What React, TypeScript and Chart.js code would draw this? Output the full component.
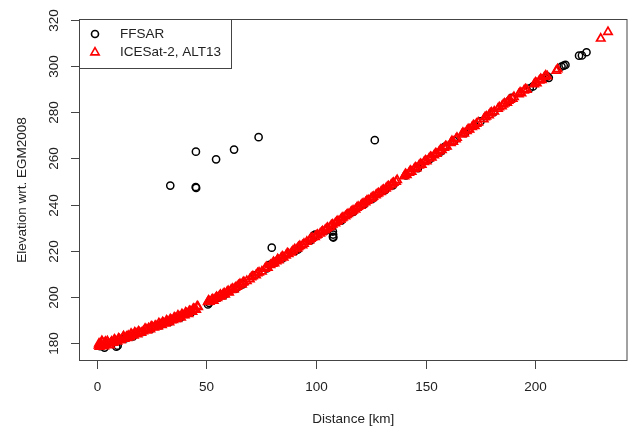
import React, { useEffect, useRef } from 'react';
import { Chart, registerables } from 'chart.js';
Chart.register(...registerables);

const seriesNames = ['FFSAR', 'ICESat-2, ALT13'];
const xTitle = 'Distance [km]';
const yTitle = 'Elevation wrt. EGM2008';
const xTicks = [0, 50, 100, 150, 200];
const yTicks = [180, 200, 220, 240, 260, 280, 300, 320];

const ffsarX = [
  1.5, 3.5, 8.9, 9.5, 13.0, 16.5, 21.0, 24.8, 29.0, 33.5, 38.0, 43.0, 50.7, 51.2, 55.5, 58.0,
  63.5, 66.5, 72.0, 77.5, 78.8, 84.5, 90.5, 91.8, 97.5, 98.9, 99.6, 104.5, 111.5, 117.0, 122.0,
  126.0, 131.5, 135.0, 141.0, 146.5, 152.0, 157.0, 158.7, 163.0, 168.0, 175.0, 181.0, 188.0,
  189.2, 197.5, 199.0, 204.5, 205.5, 206.2, 212.0, 213.0, 213.8, 220.0, 221.3, 223.4,
  33.5, 45.2, 45.1, 45.3, 54.4, 62.6, 73.8, 54.4, 79.8, 126.8, 107.7, 107.8, 107.7, 107.9,
];
const ffsarY = [
  178.6, 178.0, 178.4, 178.8, 182.0, 182.9, 184.8, 186.2, 187.7, 189.3, 190.9, 193.3, 196.7, 197.4, 199.6, 200.7,
  203.6, 205.4, 209.3, 212.3, 213.9, 216.5, 219.9, 220.5, 224.4, 226.5, 227.0, 228.8, 233.0, 236.8, 240.2,
  242.6, 246.2, 248.3, 252.6, 255.8, 259.8, 263.0, 265.0, 267.6, 271.0, 276.0, 280.0, 284.8,
  286.2, 290.4, 291.2, 295.0, 295.6, 294.9, 299.8, 300.2, 300.5, 304.5, 304.6, 306.0,
  248.2, 262.9, 247.6, 247.2, 259.6, 263.8, 269.2, 301.8, 221.3, 267.9, 228.3, 227.0, 226.0, 225.7,
];

const iceX = [
  0.8, 1.2, 1.7, 2.1, 2.6, 3.0, 3.4, 3.9, 4.5, 5.2, 5.9, 6.8, 7.6, 8.5, 9.4, 10.3, 11.0, 11.8, 12.6, 13.5,
  14.3, 15.2, 16.0, 16.9, 17.8, 18.6, 19.5, 21.2, 22.5, 23.6, 24.4, 25.3, 26.2, 27.0, 27.9, 28.8, 29.7,
  30.5, 31.4, 32.3, 33.1, 34.0, 34.9, 35.8, 36.6, 37.5, 38.4, 39.2, 40.1, 41.0, 41.8, 42.7, 43.6, 44.5,
  45.3, 46.2,
  1.0, 2.3, 3.7, 4.8, 6.3, 8.0, 9.9, 12.2, 13.9, 15.6, 17.3, 19.0, 20.3, 22.0, 23.0, 24.8, 26.6, 28.3,
  30.0, 31.8, 33.5, 35.3, 37.0, 38.8, 40.5, 42.2, 44.0, 45.8,
  50.6, 51.5, 52.4, 53.3, 54.1, 55.0, 55.9, 56.8, 57.6, 58.5, 59.4, 60.3, 61.2, 62.5, 64.0, 65.3, 66.2,
  67.1, 68.4, 69.8, 71.2, 72.6, 74.0, 75.3, 76.7, 78.0, 79.2, 80.1, 81.0, 82.0, 83.0, 84.0, 85.2, 86.3,
  87.5, 88.8, 90.3, 91.5, 92.6, 93.8, 95.8, 97.0, 98.2, 99.5, 100.7, 101.9, 103.0, 104.1, 105.3, 106.5,
  107.6, 108.8, 110.0, 111.2, 112.3, 113.4, 114.6, 115.8, 116.9, 118.0, 119.2, 120.4, 121.5, 122.6,
  123.8, 125.0, 126.1, 127.3, 128.5, 129.6, 130.8, 131.9, 133.0, 134.2, 135.4, 136.5,
  51.0, 52.9, 54.6, 56.4, 58.1, 59.9, 61.8, 63.2, 64.6, 66.7, 70.5, 73.3, 77.3, 80.6, 82.5, 84.6, 86.9,
  89.5, 92.0, 94.5, 97.6, 100.1, 102.5, 104.7, 107.0, 109.4, 111.8, 114.0, 116.3, 118.6, 121.0, 123.2,
  125.6, 127.9, 130.2, 132.5, 134.8, 137.0,
  140.3, 141.4, 142.5, 143.6, 144.8, 145.9, 147.0, 148.2, 149.3, 150.5, 151.6, 152.8, 153.9, 155.1,
  156.2, 157.4, 158.5, 159.7, 161.5, 162.6, 163.8, 166.5, 167.6, 168.8, 170.0, 171.2, 172.4, 174.0,
  176.5, 177.7, 178.9, 180.1, 181.3, 183.6, 184.8, 186.0, 187.2, 188.5, 189.7, 192.5, 193.7, 194.9,
  196.2, 199.5, 200.7, 201.9, 203.0, 204.2, 205.5, 210.2,
  140.8, 143.0, 145.3, 147.6, 149.9, 152.2, 154.5, 156.8, 159.1, 162.0, 164.3, 167.0, 169.4, 171.8,
  173.2, 177.1, 179.5, 183.0, 185.4, 187.8, 190.3, 193.1, 195.5, 200.1, 202.5, 204.8, 209.6,
  229.9, 233.2,
];
const iceY = [
  178.9, 178.4, 179.6, 178.8, 180.3, 179.1, 178.6, 180.5, 179.4, 179.9, 179.0, 180.6, 180.1, 181.0, 180.7, 181.6, 181.2, 182.3, 181.8, 182.7,
  183.1, 182.6, 183.6, 183.3, 184.2, 183.8, 184.6, 185.1, 185.9, 186.4, 186.0, 186.9, 186.7, 187.4, 187.2, 188.1, 187.8,
  188.7, 188.4, 189.3, 189.0, 189.9, 190.0, 190.7, 190.4, 191.4, 191.1, 192.1, 192.0, 192.9, 192.6, 193.7, 193.5, 194.6,
  194.4, 195.6,
  179.8, 180.9, 179.9, 180.8, 180.0, 181.5, 181.9, 182.9, 182.2, 184.0, 184.5, 185.0, 184.4, 186.2, 185.4, 187.2, 187.5, 188.6,
  189.0, 189.7, 190.3, 191.1, 191.9, 192.5, 193.2, 193.9, 194.8, 195.9,
  197.8, 197.9, 198.6, 198.3, 199.3, 199.5, 200.4, 200.2, 201.1, 201.0, 202.1, 201.9, 203.0, 203.2, 204.4, 205.6, 205.4,
  206.4, 206.9, 207.6, 208.9, 209.4, 210.6, 211.0, 212.2, 212.6, 213.8, 214.3, 214.6, 215.4, 215.9, 216.7, 217.0, 217.9,
  218.6, 219.2, 220.6, 220.9, 222.0, 222.4, 223.9, 224.5, 225.6, 225.9, 226.9, 227.4, 228.4, 228.9, 229.9, 230.3,
  231.4, 231.9, 232.9, 233.4, 234.4, 234.9, 235.9, 236.5, 237.4, 237.9, 239.0, 239.5, 240.4, 241.0,
  241.9, 242.5, 243.4, 244.0, 244.9, 245.4, 246.4, 246.9, 247.9, 248.5, 249.4, 249.9,
  198.4, 199.0, 199.9, 200.9, 201.6, 202.5, 203.5, 204.0, 205.0, 206.2, 208.5, 210.2, 212.9, 215.1, 216.3, 217.5, 218.9,
  220.0, 221.6, 223.0, 225.2, 226.6, 228.0, 229.5, 231.0, 232.5, 234.1, 235.5, 237.0, 238.6, 240.1, 241.6,
  243.1, 244.6, 246.1, 247.6, 249.1, 250.6,
  252.3, 252.8, 253.8, 254.2, 255.4, 255.7, 256.9, 257.2, 258.4, 258.8, 259.9, 260.4, 261.4, 262.0,
  263.0, 263.6, 264.6, 265.1, 266.7, 267.2, 268.3, 270.3, 270.8, 271.9, 272.5, 273.6, 274.0, 275.6,
  277.0, 278.1, 278.7, 279.9, 280.3, 282.2, 282.6, 283.8, 284.1, 285.4, 285.8, 287.8, 288.2, 289.4,
  289.7, 292.1, 292.6, 293.7, 294.0, 295.3, 295.6, 298.6,
  253.2, 254.6, 256.1, 257.6, 259.1, 260.6, 262.1, 263.7, 265.3, 267.5, 268.9, 271.1, 272.6, 274.4,
  275.0, 277.8, 279.6, 281.5, 283.4, 285.0, 286.6, 288.6, 290.0, 292.9, 294.4, 295.9, 298.0,
  311.9, 314.8,
];

const FONT = '13.5px "Liberation Sans", Arial, sans-serif';
const AXIS_COLOR = '#444';

const rFrame = {
  id: 'rFrame',
  afterDraw(chart: any) {
    const ctx = chart.ctx;
    const { left, right, top, bottom } = chart.chartArea;
    const xs = chart.scales.x;
    const ys = chart.scales.y;
    ctx.save();
    ctx.strokeStyle = AXIS_COLOR;
    ctx.lineWidth = 1;
    ctx.strokeRect(left + 0.5, top + 0.5, right - left - 1, bottom - top - 1);
    ctx.fillStyle = '#222';
    ctx.font = FONT;
    ctx.textAlign = 'center';
    ctx.textBaseline = 'middle';
    for (const v of xTicks) {
      const px = Math.round(xs.getPixelForValue(v)) + 0.5;
      ctx.beginPath();
      ctx.moveTo(px, bottom);
      ctx.lineTo(px, bottom + 8);
      ctx.stroke();
      ctx.fillText(String(v), px, bottom + 26);
    }
    for (const v of yTicks) {
      const py = Math.round(ys.getPixelForValue(v)) + 0.5;
      ctx.beginPath();
      ctx.moveTo(left, py);
      ctx.lineTo(left - 8, py);
      ctx.stroke();
      ctx.save();
      ctx.translate(left - 25, py);
      ctx.rotate(-Math.PI / 2);
      ctx.fillText(String(v), 0, 0);
      ctx.restore();
    }
    ctx.fillText(xTitle, (left + right) / 2, bottom + 58);
    ctx.save();
    ctx.translate(22, (top + bottom) / 2);
    ctx.rotate(-Math.PI / 2);
    ctx.fillText(yTitle, 0, 0);
    ctx.restore();
    // legend
    const lx = left, ly = top, lw = 152, lh = 49;
    ctx.fillStyle = '#fff';
    ctx.fillRect(lx, ly, lw, lh);
    ctx.strokeRect(lx + 0.5, ly + 0.5, lw, lh);
    ctx.textAlign = 'left';
    ctx.fillStyle = '#222';
    ctx.fillText(seriesNames[0], lx + 41, ly + 15);
    ctx.fillText(seriesNames[1], lx + 41, ly + 33);
    ctx.strokeStyle = '#000';
    ctx.lineWidth = 1.6;
    ctx.beginPath();
    ctx.arc(lx + 16, ly + 15, 3.5, 0, Math.PI * 2);
    ctx.stroke();
    ctx.strokeStyle = '#ff0000';
    const tx = lx + 16, ty = ly + 33.5, r = 4.8;
    ctx.beginPath();
    ctx.moveTo(tx, ty - r);
    ctx.lineTo(tx + r * 0.866, ty + r * 0.5);
    ctx.lineTo(tx - r * 0.866, ty + r * 0.5);
    ctx.closePath();
    ctx.stroke();
    ctx.restore();
  },
};

export default function App() {
  const ref = useRef<HTMLCanvasElement | null>(null);
  useEffect(() => {
    if (!ref.current) return;
    const ffsar = ffsarX.map((x, i) => ({ x, y: ffsarY[i] }));
    const ice = iceX.map((x, i) => ({ x, y: iceY[i] }));
    const chart = new Chart(ref.current, {
      type: 'scatter',
      data: {
        datasets: [
          {
            label: seriesNames[0],
            data: ffsar,
            order: 1,
            pointStyle: 'circle',
            pointRadius: 3.6,
            pointBorderWidth: 1.5,
            pointBorderColor: '#000',
            pointBackgroundColor: 'rgba(0,0,0,0)',
          },
          {
            label: seriesNames[1],
            data: ice,
            order: 0,
            pointStyle: 'triangle',
            pointRadius: 4.8,
            pointBorderWidth: 1.7,
            pointBorderColor: '#ff0000',
            pointBackgroundColor: 'rgba(0,0,0,0)',
          },
        ],
      },
      options: {
        animation: false,
        responsive: false,
        events: [],
        layout: { padding: { left: 79, top: 19, right: 2, bottom: 67 } },
        plugins: { legend: { display: false }, tooltip: { enabled: false } },
        scales: {
          x: { type: 'linear', display: false, min: -8.14, max: 242.1 },
          y: { type: 'linear', display: false, min: 172.2, max: 320.4 },
        },
      },
      plugins: [rFrame],
    });
    return () => chart.destroy();
  }, []);
  return (
    <div style={{ position: 'absolute', left: 0, top: 0, width: 634, height: 428, background: '#fff' }}>
      <canvas ref={ref} width={634} height={428} style={{ display: 'block' }} />
    </div>
  );
}
